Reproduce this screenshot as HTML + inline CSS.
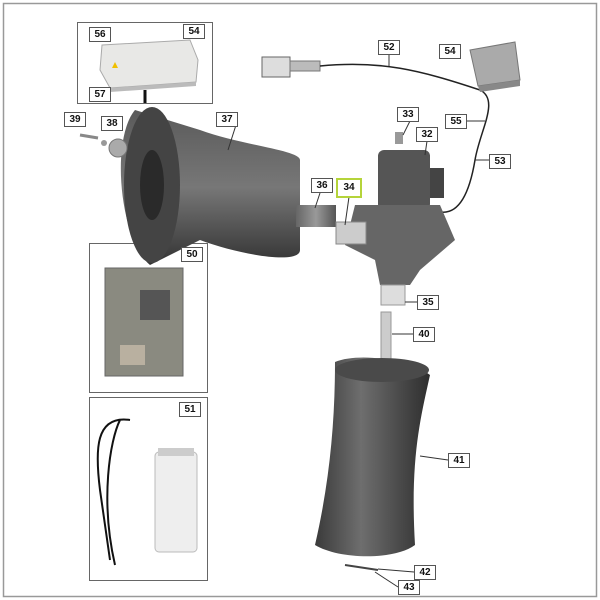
<!DOCTYPE html>
<html><head><style>
body{margin:0;background:#fff;}
.l{position:absolute;background:#fff;border:1px solid #555;font:bold 10px "Liberation Sans",sans-serif;color:#111;text-align:center;width:20px;height:13px;line-height:13px;}
</style></head><body>
<div style="position:relative;width:600px;height:600px;overflow:hidden;">
<svg width="600" height="600" style="position:absolute;left:0;top:0">
<defs>
<linearGradient id="cyl" x1="0" x2="1"><stop offset="0" stop-color="#3a3a3a"/><stop offset="0.4" stop-color="#6e6e6e"/><stop offset="1" stop-color="#2e2e2e"/></linearGradient>
<linearGradient id="cylh" x1="0" y1="0" x2="0" y2="1"><stop offset="0" stop-color="#5a5a5a"/><stop offset="0.5" stop-color="#777"/><stop offset="1" stop-color="#333"/></linearGradient>
<linearGradient id="grey" x1="0" x2="1"><stop offset="0" stop-color="#666"/><stop offset="0.5" stop-color="#999"/><stop offset="1" stop-color="#555"/></linearGradient>
</defs>
<rect x="3.5" y="3.5" width="593" height="593" fill="none" stroke="#999" stroke-width="1.5"/>
<rect x="77.5" y="22.5" width="135" height="81" fill="#fff" stroke="#666"/>
<rect x="89.5" y="243.5" width="118" height="149" fill="#fff" stroke="#666"/>
<rect x="89.5" y="397.5" width="118" height="183" fill="#fff" stroke="#666"/>
<path d="M102 45 L190 40 L198 60 L196 82 L110 88 L100 70Z" fill="#e8e8e6" stroke="#aaa"/>
<path d="M110 88 L196 82 L196 86 L110 92Z" fill="#bbb"/>
<line x1="145" y1="90" x2="145" y2="103" stroke="#111" stroke-width="3"/>
<polygon points="112,68 118,68 115,62" fill="#f0c000"/>
<rect x="262" y="57" width="28" height="20" fill="#ddd" stroke="#666"/>
<rect x="290" y="61" width="30" height="10" fill="#bbb" stroke="#777"/>
<path d="M320 66 C380 60 420 70 480 90 C500 100 480 130 475 160 C470 190 460 215 440 212" fill="none" stroke="#222" stroke-width="1.5"/>
<path d="M470 50 L515 42 L520 80 L478 86Z" fill="#aaa" stroke="#777"/>
<path d="M478 86 L520 80 L520 86 L480 92Z" fill="#888"/>
<path d="M135 110 L200 130 C240 145 300 150 300 160 L300 250 C300 265 240 255 200 240 L150 265 C120 240 110 140 135 110Z" fill="url(#cylh)"/>
<ellipse cx="152" cy="185" rx="28" ry="78" fill="#444"/>
<ellipse cx="152" cy="185" rx="12" ry="35" fill="#2a2a2a"/>
<rect x="296" y="205" width="40" height="22" fill="url(#grey)"/>
<path d="M80 135 L98 138" stroke="#888" stroke-width="3"/>
<circle cx="118" cy="148" r="9" fill="#aaa" stroke="#777"/>
<circle cx="104" cy="143" r="3" fill="#999"/>
<rect x="378" y="150" width="52" height="60" rx="6" fill="#555"/>
<rect x="430" y="168" width="14" height="30" fill="#444"/>
<path d="M355 205 L440 205 L455 240 L420 270 L410 285 L380 285 L375 260 L345 245Z" fill="#666"/>
<rect x="336" y="222" width="30" height="22" fill="#ccc" stroke="#888"/>
<rect x="381" y="285" width="24" height="20" fill="#ddd" stroke="#999"/>
<rect x="395" y="132" width="8" height="12" fill="#999"/>
<rect x="381" y="312" width="10" height="48" fill="#ccc" stroke="#999"/>
<path d="M335 362 C360 352 410 360 430 375 C420 420 410 460 415 545 C395 560 340 560 315 545 C330 480 335 420 335 362Z" fill="url(#cyl)"/>
<ellipse cx="382" cy="370" rx="47" ry="12" fill="#4a4a4a"/>
<line x1="345" y1="565" x2="378" y2="570" stroke="#444" stroke-width="2"/>
<rect x="105" y="268" width="78" height="108" fill="#8a8a80" stroke="#666"/>
<rect x="120" y="345" width="25" height="20" fill="#b9b0a0"/>
<rect x="140" y="290" width="30" height="30" fill="#555"/>
<path d="M130 420 C95 415 95 450 100 490 L110 560 M120 420 C110 440 100 500 115 565" fill="none" stroke="#111" stroke-width="2"/>
<rect x="155" y="452" width="42" height="100" rx="4" fill="#eee" stroke="#bbb"/>
<rect x="158" y="448" width="36" height="8" fill="#ccc"/>
<g stroke="#333" stroke-width="1">
<line x1="236" y1="125" x2="228" y2="150"/><line x1="320" y1="193" x2="315" y2="208"/>
<line x1="349" y1="197" x2="345" y2="225"/><line x1="410" y1="121" x2="403" y2="135"/>
<line x1="427" y1="141" x2="425" y2="155"/><line x1="445" y1="121" x2="485" y2="121"/>
<line x1="499" y1="160" x2="475" y2="160"/><line x1="389" y1="52" x2="389" y2="66"/>
<line x1="417" y1="302" x2="405" y2="302"/><line x1="413" y1="334" x2="392" y2="334"/>
<line x1="448" y1="460" x2="420" y2="456"/><line x1="414" y1="572" x2="378" y2="569"/>
<line x1="398" y1="587" x2="375" y2="572"/>
</g>
</svg>
<div class="l" style="left:89px;top:27px">56</div>
<div class="l" style="left:183px;top:24px">54</div>
<div class="l" style="left:89px;top:87px">57</div>
<div class="l" style="left:378px;top:40px">52</div>
<div class="l" style="left:439px;top:44px">54</div>
<div class="l" style="left:445px;top:114px">55</div>
<div class="l" style="left:489px;top:154px">53</div>
<div class="l" style="left:397px;top:107px">33</div>
<div class="l" style="left:416px;top:127px">32</div>
<div class="l" style="left:64px;top:112px">39</div>
<div class="l" style="left:101px;top:116px">38</div>
<div class="l" style="left:216px;top:112px">37</div>
<div class="l" style="left:311px;top:178px">36</div>
<div class="l" style="left:336px;top:178px;width:22px;height:16px;line-height:16px;border:2px solid #b5d43a">34</div>
<div class="l" style="left:181px;top:247px">50</div>
<div class="l" style="left:417px;top:295px">35</div>
<div class="l" style="left:413px;top:327px">40</div>
<div class="l" style="left:179px;top:402px">51</div>
<div class="l" style="left:448px;top:453px">41</div>
<div class="l" style="left:414px;top:565px">42</div>
<div class="l" style="left:398px;top:580px">43</div>
</div>
</body></html>
